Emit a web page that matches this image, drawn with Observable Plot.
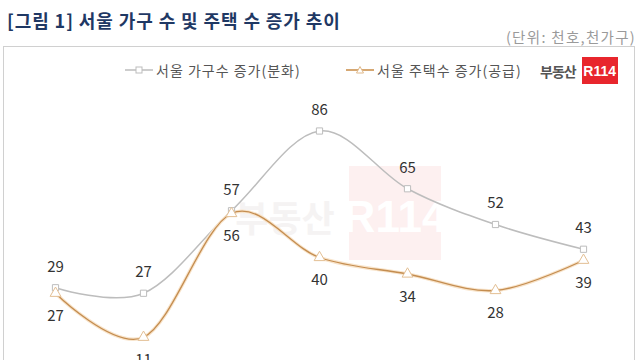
<!DOCTYPE html>
<html>
<head>
<meta charset="utf-8">
<script src="https://cdn.jsdelivr.net/npm/d3@7"></script>
<script src="https://cdn.jsdelivr.net/npm/@observablehq/plot@0.6"></script>
<style>
  html, body { margin: 0; padding: 0; background: #fff; }
  body { font-family: "Noto Sans CJK KR", "Noto Sans", sans-serif; }
  #wrap { position: relative; width: 640px; height: 360px; overflow: hidden; background: #fff; }
  #title { position: absolute; left: 7px; top: 7px; font-size: 18px; font-weight: bold; color: #1f3864; letter-spacing: 0.9px; white-space: nowrap; }
  #unit { position: absolute; right: 4px; top: 26px; font-size: 14.5px; color: #9a9a9a; letter-spacing: 1.3px; white-space: nowrap; }
  #box { position: absolute; left: 3px; top: 46px; width: 630px; height: 340px; border: 1.5px solid #d0d0d0; }
  #legend { position: absolute; left: 0; top: 58px; width: 640px; height: 26px; font-size: 14px; color: #555; letter-spacing: 1px; }
  .item { position: absolute; top: 2px; display: flex; align-items: center; white-space: nowrap; }
  #logo { position: absolute; left: 540px; top: 57px; display: flex; align-items: center; }
  #logo .txt { font-size: 14px; font-weight: bold; color: #555; letter-spacing: -1px; margin-right: 6px; }
  #logo .red { width: 36px; height: 27px; background: #e8262d; color: #fff; font-weight: bold; font-size: 14px; display: flex; align-items: center; justify-content: center; font-family: "Liberation Sans", sans-serif; }
  #wm { position: absolute; left: 0; top: 0; }
  #chart { position: absolute; left: 0; top: 90px; }
</style>
</head>
<body>
<div id="wrap">
  <div id="title">[그림 1] 서울 가구 수 및 주택 수 증가 추이</div>
  <div id="unit">(단위: 천호,천가구)</div>
  <div id="box"></div>
  <svg id="wm" width="640" height="360">
    <rect x="349" y="166" width="92" height="94" fill="#fdf0f0"></rect>
    <text x="395" y="232" text-anchor="middle" font-size="44" font-weight="bold" fill="#ffffff" font-family="Liberation Sans, sans-serif">R114</text>
    <text x="285" y="232" text-anchor="middle" font-size="36" font-weight="bold" fill="#f5f3f3">부동산</text>
  </svg>
  <div id="legend">
    <div class="item" style="left:125px">
      <svg width="28" height="12"><line x1="0" y1="6" x2="28" y2="6" stroke="#bdbdbd" stroke-width="1.5"/><rect x="11" y="3" width="6" height="6" fill="#fff" stroke="#bdbdbd"/></svg>
      <span style="margin-left:3px">서울 가구수 증가(분화)</span>
    </div>
    <div class="item" style="left:346px">
      <svg width="28" height="12"><line x1="0" y1="6" x2="28" y2="6" stroke="#c98b45" stroke-width="1.5"/><path d="M14,2.5 L17.5,9 L10.5,9 Z" fill="#fff" stroke="#e0b98a"/></svg>
      <span style="margin-left:3px">서울 주택수 증가(공급)</span>
    </div>
  </div>
  <div id="logo"><span class="txt">부동산</span><div class="red">R114</div></div>
  <div id="chart"></div>
</div>
<script>
const periods = ["2012", "2013", "2014", "2015", "2016", "2017", "2018"];
const households = [29, 27, 57, 86, 65, 52, 43];
const housing = [27, 11, 56, 40, 34, 28, 39];

const hh = periods.map((p, i) => ({period: p, value: households[i]}));
const hs = periods.map((p, i) => ({period: p, value: housing[i]}));

const chart = Plot.plot({
  width: 640,
  height: 290,
  marginLeft: 52,
  marginRight: 55,
  marginTop: 2,
  marginBottom: 13,
  style: {background: "transparent", fontFamily: "Noto Sans CJK KR, Noto Sans, sans-serif"},
  x: {type: "point", domain: periods, padding: 0, axis: null},
  y: {domain: [0, 100], axis: null},
  marks: [
    Plot.line(hh, {x: "period", y: "value", stroke: "#bdbdbd", strokeWidth: 1.5, curve: "cardinal"}),
    Plot.line(hs, {x: "period", y: "value", stroke: "#f8e4cb", strokeWidth: 3.5, curve: "cardinal"}),
    Plot.line(hs, {x: "period", y: "value", stroke: "#c48d50", strokeWidth: 1.3, curve: "cardinal"}),
    Plot.dot(hh, {x: "period", y: "value", symbol: "square", r: 3.5, fill: "#fff", stroke: "#bdbdbd", strokeWidth: 1}),
    Plot.dot(hs, {x: "period", y: "value", symbol: "triangle", r: 4, fill: "#fff", stroke: "#e3bf94", strokeWidth: 1}),
    Plot.text(hh, {x: "period", y: "value", text: d => String(d.value), dy: -21, fontSize: 15, fill: "#333"}),
    Plot.text(hs, {x: "period", y: "value", text: d => String(d.value), dy: 23, fontSize: 15, fill: "#333"})
  ]
});
document.getElementById("chart").appendChild(chart);
</script>
</body>
</html>
